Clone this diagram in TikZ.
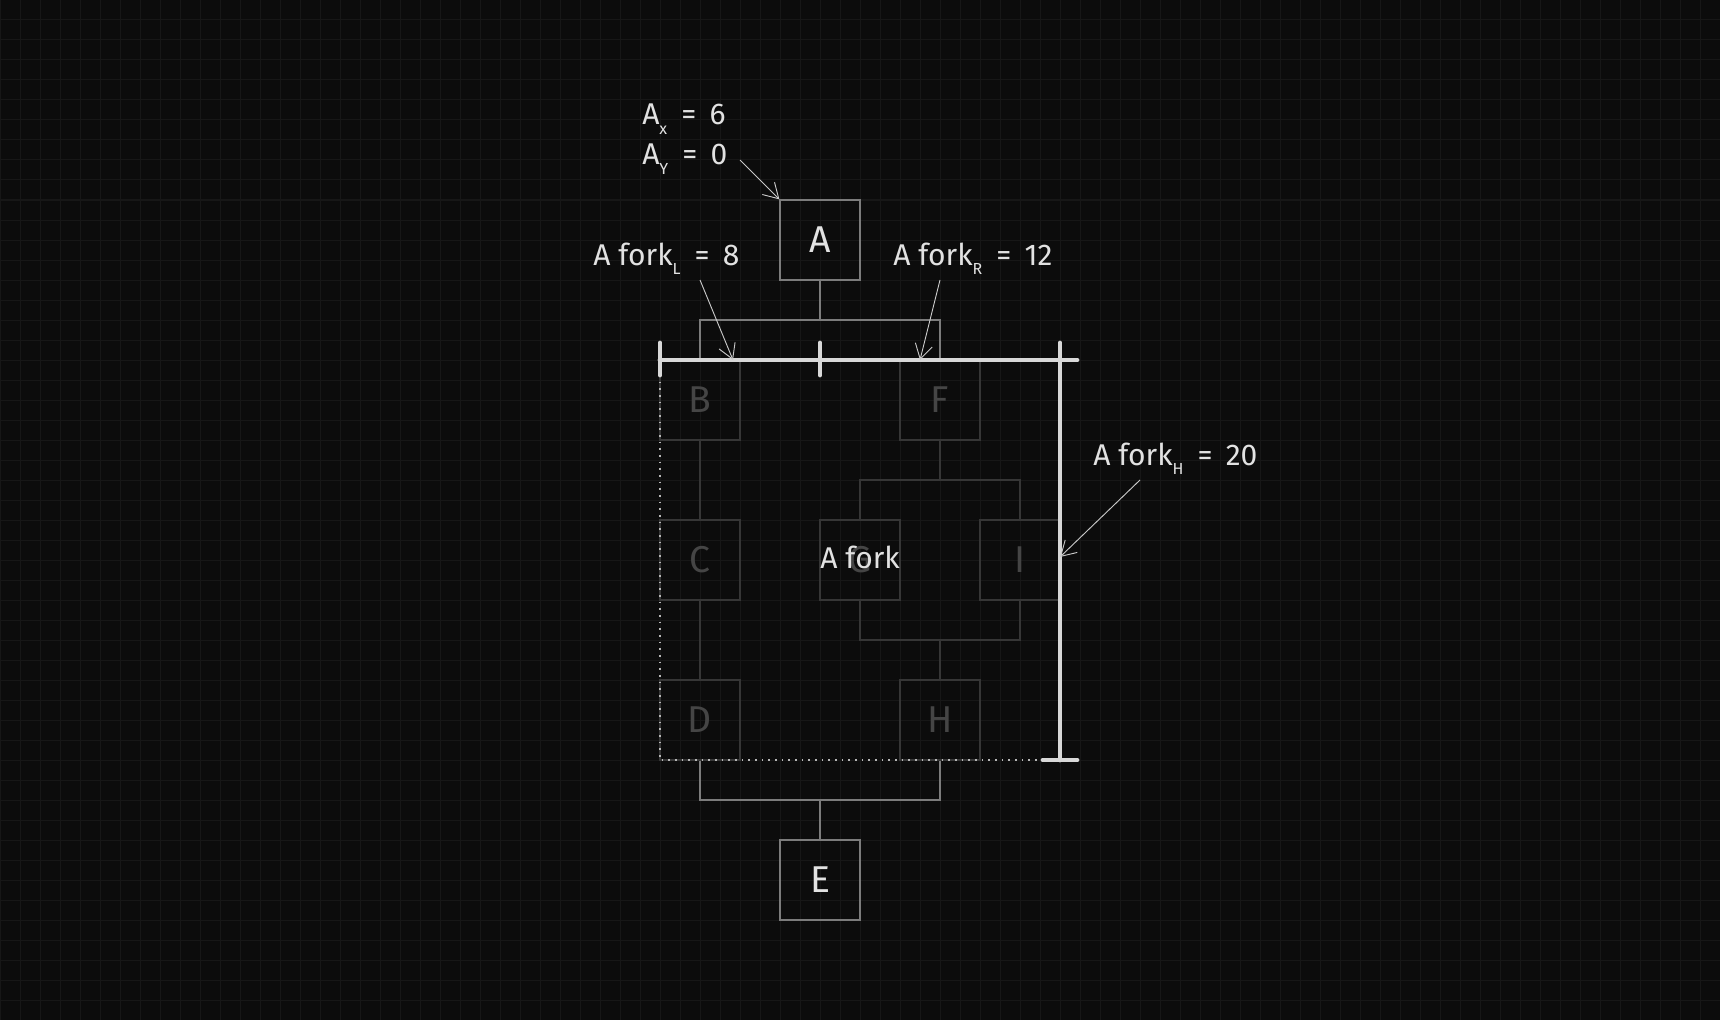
\documentclass[tikz,border=0pt]{standalone}
\usepackage{fontspec}
\setmainfont{Fira Sans}
\usetikzlibrary{arrows.meta}
\definecolor{bg}{HTML}{0C0C0C}
\definecolor{gridc}{HTML}{171717}
\definecolor{txt}{HTML}{E2E2E2}
\definecolor{boxc}{HTML}{7C7C7C}
\definecolor{dimc}{HTML}{363636}
\definecolor{dimtxt}{HTML}{454545}
\definecolor{thickc}{HTML}{D8D8D8}
\definecolor{arrc}{HTML}{C8C8C8}
\newcommand{\mysub}[1]{\raisebox{-0.6ex}{\fontsize{12}{12}\selectfont #1}}
\newcommand{\myeq}{\hspace{0.47em}=\hspace{0.44em}}
\begin{document}
\begin{tikzpicture}[x=0.75pt,y=-0.75pt,
  mainbox/.style={draw=boxc, line width=0.9pt, minimum size=60pt, inner sep=0pt, text=txt, font=\fontsize{28}{32}\selectfont},
  dimbox/.style={draw=dimc, line width=0.9pt, minimum size=60pt, inner sep=0pt, text=dimtxt, font=\fontsize{28}{32}\selectfont},
  gconn/.style={draw=boxc, line width=0.9pt},
  dconn/.style={draw=dimc, line width=0.9pt},
  thickl/.style={draw=thickc, line width=3.6pt, line cap=round},
  dotl/.style={draw=thickc!85!black, line width=1.3pt, dash pattern=on 1.3pt off 3.7pt},
  lbl/.style={text=txt, font=\fontsize{22.5}{26}\selectfont, inner sep=0pt},
  callout/.style={draw=arrc, line width=0.7pt, -{Straight Barb[length=11pt,width=13pt]}}
]
\useasboundingbox (0,0) rectangle (1720,1020);
\fill[bg] (0,0) rectangle (1720,1020);
\foreach \gx in {0,20,...,1720} \draw[gridc, line width=0.75pt] (\gx,0) -- (\gx,1020);
\foreach \gy in {0,20,...,1020} \draw[gridc, line width=0.75pt] (0,\gy) -- (1720,\gy);

% boxes
\node[mainbox] (A) at (820,240) {A};
\node[dimbox] (B) at (700,400) {B};
\node[dimbox] (C) at (700,560) {C};
\node[dimbox] (D) at (700,720) {D};
\node[dimbox] (F) at (940,400) {F};
\node[dimbox] (G) at (860,560) {G};
\node[dimbox] (I) at (1020,560) {I};
\node[dimbox] (H) at (940,720) {H};
\node[mainbox] (E) at (820,880) {E};

% connectors
\coordinate (ft) at (820,320);
\draw[gconn] (A.south) -- (ft);
\draw[gconn] (B.north) |- (ft) -| (F.north);
\draw[dconn] (B) -- (C);
\draw[dconn] (C) -- (D);
\coordinate (gt) at (940,480);
\coordinate (gb) at (940,640);
\draw[dconn] (F.south) -- (gt);
\draw[dconn] (G.north) |- (gt) -| (I.north);
\draw[dconn] (G.south) |- (gb) -| (I.south);
\draw[dconn] (gb) -- (H.north);
\coordinate (eb) at (820,800);
\draw[gconn] (D.south) |- (eb) -| (H.south);
\draw[gconn] (eb) -- (E.north);

% dimension lines
\coordinate (tl) at (660,360);
\coordinate (tre) at (1077,360);
\coordinate (ltt) at (660,343);
\coordinate (ltb) at (660,375);
\coordinate (mtt) at (820,343);
\coordinate (mtb) at (820,375);
\coordinate (rtt) at (1060,343);
\coordinate (rb) at (1060,760);
\coordinate (bl) at (1043,760);
\coordinate (br) at (1077,760);
\coordinate (dl) at (660,760);
\draw[dotl] (ltb) -- (dl) -- (bl);
\draw[thickl] (tl) -- (tre);
\draw[thickl] (ltt) -- (ltb);
\draw[thickl] (mtt) -- (mtb);
\draw[thickl] (rtt) -- (rb);
\draw[thickl] (bl) -- (br);

% labels
\node[lbl, anchor=west] (lax) at (642,119) {A\mysub{x}\myeq 6};
\node[lbl, anchor=west] (lay) at (642,159) {A\mysub{Y}\myeq 0};
\node[lbl, anchor=west] (lfl) at (593,259) {A fork\mysub{L}\myeq 8};
\node[lbl, anchor=west] (lfr) at (893,259) {A fork\mysub{R}\myeq 12};
\node[lbl, anchor=west] (lfh) at (1093,459) {A fork\mysub{H}\myeq 20};
\node[lbl] (lf) at (860,557) {A fork};

% callouts
\coordinate (cay) at (740,160);
\coordinate (cfl1) at (700,280);
\coordinate (cfl2) at (733,360);
\coordinate (cfr1) at (940,280);
\coordinate (cfr2) at (920,360);
\coordinate (cfh1) at (1140,480);
\coordinate (cfh2) at (1060,557);
\draw[callout] (cay) -- (A.north west);
\draw[callout] (cfl1) -- (cfl2);
\draw[callout] (cfr1) -- (cfr2);
\draw[callout] (cfh1) -- (cfh2);
\end{tikzpicture}
\end{document}
